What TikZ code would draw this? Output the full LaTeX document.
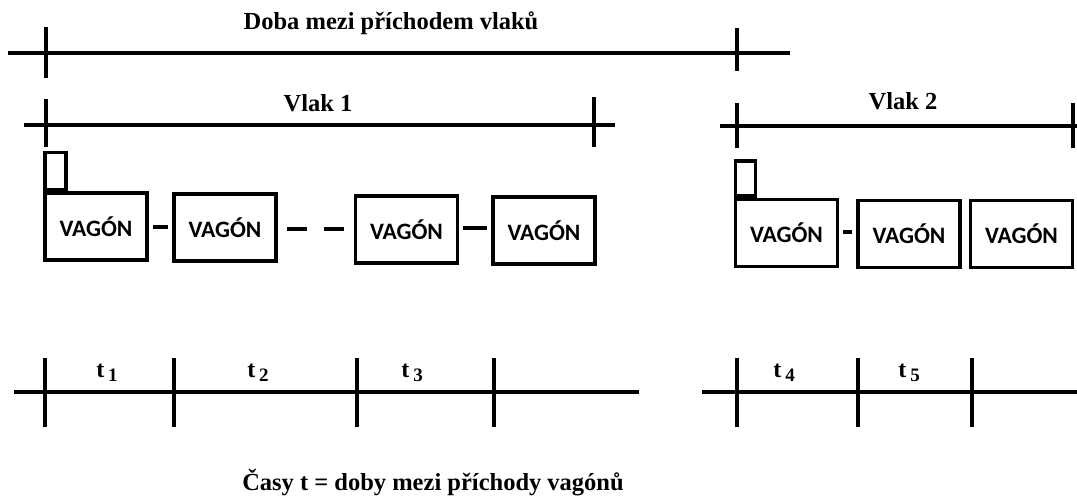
\documentclass[tikz,border=0pt]{standalone}
\usepackage{fontspec}
\setmainfont{Liberation Serif}
\newfontfamily\wagfont{Carlito}
\newcommand{\tlab}[1]{t\,\raisebox{-0.4ex}{\fontsize{19}{19}\selectfont #1}}
\begin{document}
\begin{tikzpicture}[x=1pt,y=-1pt,
    axis/.style={line width=4pt},
    tick/.style={line width=3.2pt},
    wagon/.style={draw,line width=3.5pt,inner sep=0pt,minimum width=102pt,minimum height=67pt,
      font=\wagfont\bfseries\fontsize{23.5}{25}\selectfont},
    chimney/.style={draw,line width=3.5pt,inner sep=0pt,minimum width=21pt,minimum height=37pt,anchor=south west},
    coupling/.style={line width=4pt,shorten <=4pt,shorten >=4pt},
    title/.style={anchor=base,font=\bfseries\fontsize{24.5}{28}\selectfont},
    tname/.style={anchor=base,font=\bfseries\fontsize{24}{26}\selectfont}]
  \fill[white] (0,0) rectangle (1077,498);
  \useasboundingbox (0,0) rectangle (1077,498);
  \node[title] (doba) at (391,29) {Doba mezi příchodem vlaků};
  \node[title] (vlak1) at (318,111) {Vlak 1};
  \node[title] (vlak2) at (903,109) {Vlak 2};
  \node[title] (casy) at (433,490) {Časy t = doby mezi příchody vagónů};
  \draw[axis] (8,53) -- (790,53);
  \draw[tick] (46,27) -- (46,78) (737,28) -- (737,71);
  \draw[axis] (24,125) -- (615,125);
  \draw[tick] (46,99) -- (46,147) (594,97) -- (594,147);
  \draw[axis] (720,126) -- (1077,126);
  \draw[tick] (737,103) -- (737,148) (1073,103) -- (1073,148);
  \node[wagon] (wag1) at (96,226.5) {VAGÓN};
  \node[wagon] (wag2) at (225,227.5) {VAGÓN};
  \node[wagon] (wag3) at (406.5,229.5) {VAGÓN};
  \node[wagon] (wag4) at (544,230.5) {VAGÓN};
  \node[wagon] (wag5) at (786.5,233) {VAGÓN};
  \node[wagon] (wag6) at (909,234) {VAGÓN};
  \node[wagon] (wag7) at (1021.5,234) {VAGÓN};
  \node[chimney] (kom1) at (wag1.north west) {};
  \node[chimney,minimum width=20pt,minimum height=35pt] (kom5) at (wag5.north west) {};
  \draw[coupling] (wag1.east |- 0,227) -- (wag2.west |- 0,227);
  \draw[coupling,shorten <=9pt,shorten >=9pt,dash pattern=on 20pt off 17pt] (wag2.east |- 0,229) -- (wag3.west |- 0,229);
  \draw[coupling] (wag3.east |- 0,228) -- (wag4.west |- 0,228);
  \draw[coupling] (wag5.east |- 0,232) -- (wag6.west |- 0,232);
  \draw[axis] (14,392) -- (639,392);
  \foreach \x in {45,174,357,494}
    \draw[tick] (\x,358) -- (\x,427);
  \draw[axis] (702,392) -- (1077,392);
  \foreach \x in {737,858,972}
    \draw[tick] (\x,358) -- (\x,427);
  \node[tname] (t1) at (107,377) {\tlab{1}};
  \node[tname] (t2) at (258,377) {\tlab{2}};
  \node[tname] (t3) at (412,377) {\tlab{3}};
  \node[tname] (t4) at (784,377) {\tlab{4}};
  \node[tname] (t5) at (909,377) {\tlab{5}};
\end{tikzpicture}
\end{document}
